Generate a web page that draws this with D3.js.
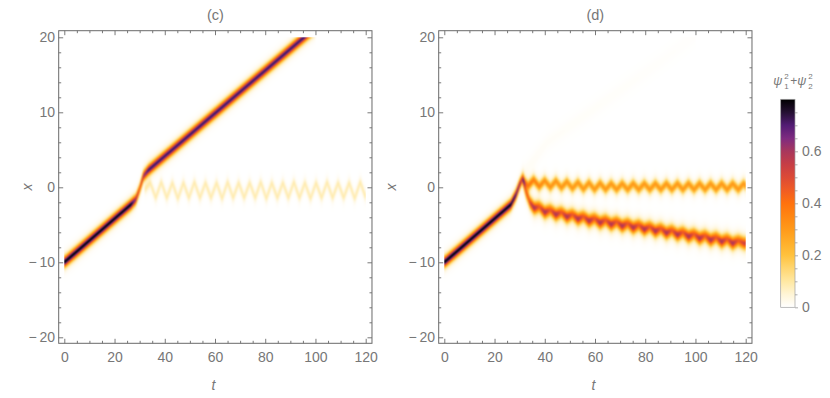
<!DOCTYPE html>
<html>
<head>
<meta charset="utf-8">
<script src="https://cdn.jsdelivr.net/npm/d3@7"></script>
<style>
  body { margin: 0; background: #fff; }
  text { font-family: "Liberation Sans", Arial, sans-serif; }
</style>
</head>
<body>
<div id="dataviz"></div>
<script>
// ---- data ----
// colour map of the legend (value -> colour)
var cmapStops = [0, 0.05, 0.1, 0.15, 0.2, 0.25, 0.3, 0.35, 0.4, 0.45, 0.5, 0.55, 0.6, 0.65, 0.7, 0.75, 0.8];
var cmapColors = ["#ffffff", "#fff5d6", "#ffe8a2", "#ffd671", "#ffc23e", "#ffae2a", "#ff9a1a", "#ff8612",
                  "#ff720e", "#f05c24", "#dc4a36", "#c63e46", "#a8375c", "#7e2b80", "#521c74", "#251032", "#000000"];

// tick values
var tTicks = [0, 20, 40, 60, 80, 100, 120];
var tMinor = [5, 10, 15, 25, 30, 35, 45, 50, 55, 65, 70, 75, 85, 90, 95, 105, 110, 115];
var xTicks = [-20, -10, 0, 10, 20];
var xMinor = [-18, -16, -14, -12, -8, -6, -4, -2, 2, 4, 6, 8, 12, 14, 16, 18];
var barTicks = [0, 0.2, 0.4, 0.6];
var barMinor = [0.05, 0.1, 0.15, 0.25, 0.3, 0.35, 0.45, 0.5, 0.55, 0.65, 0.7, 0.75];

// (c) moving soliton: centre x(t) and peak value
var cMainT = [0, 26.5, 28.5, 30, 31.5, 33.5, 100];
var cMainX = [-10, -2.3, -1.6, -0.2, 1.5, 2.3, 21.3];
var cMainA = [0.8, 0.79, 0.6, 0.45, 0.6, 0.72, 0.72];

// (c) weak trapped part, zigzag vertices
var cTrapT = [32, 34.2, 36.4, 38.6, 40.8, 43, 45.2, 47.4, 49.6, 51.8, 54, 56.2, 58.4, 60.6, 62.8, 65, 67.2, 69.4,
              71.6, 73.8, 76, 78.2, 80.4, 82.6, 84.8, 87, 89.2, 91.4, 93.6, 95.8, 98, 100.2, 102.4, 104.6, 106.8,
              109, 111.2, 113.4, 115.6, 117.8, 120];
var cTrapX = [-0.3,
              0.6, -1.4, 0.7, -1.4, 0.6, -1.5, 0.6, -1.4, 0.7, -1.4,
              0.6, -1.4, 0.6, -1.5, 0.7, -1.4, 0.6, -1.4, 0.6, -1.4,
              0.7, -1.5, 0.6, -1.4, 0.6, -1.4, 0.7, -1.4, 0.6, -1.5,
              0.6, -1.4, 0.7, -1.4, 0.6, -1.4, 0.6, -1.5, 0.7, -1.4];
var cTrapAT = [32, 120];
var cTrapA = [0.09, 0.09];

// (d) incoming soliton
var dMainT = [0, 26.5, 28.5, 30, 31.2];
var dMainX = [-10, -2.3, -1.0, 0.4, 1.2];
var dMainA = [0.8, 0.79, 0.72, 0.62, 0.5];

// (d) reflected (lower) soliton: drift of the centre
var dLowT = [31.2, 32.5, 34, 36, 40, 45, 50, 60, 70, 80, 90, 100, 110, 120];
var dLowX = [1.2, -0.6, -1.9, -2.6, -3.1, -3.45, -3.8, -4.4, -4.9, -5.4, -5.95, -6.5, -7.0, -7.5];

// (d) oscillation vertices shared by the trapped and the reflected parts
var dOscT = [31.2, 33.4, 35.6, 37.8, 40, 42.2, 44.4, 46.6, 48.8, 51, 53.2, 55.4, 57.6, 59.8, 62, 64.2, 66.4,
             68.6, 70.8, 73, 75.2, 77.4, 79.6, 81.8, 84, 86.2, 88.4, 90.6, 92.8, 95, 97.2, 99.4, 101.6, 103.8,
             106, 108.2, 110.4, 112.6, 114.8, 117, 119.2, 120];
var dLowWig = [0, 0,
               -0.25, 0.25, -0.25, 0.25, -0.25, 0.25, -0.25, 0.25, -0.25, 0.25,
               -0.25, 0.25, -0.25, 0.25, -0.25, 0.25, -0.25, 0.25, -0.25, 0.25,
               -0.25, 0.25, -0.25, 0.25, -0.25, 0.25, -0.25, 0.25, -0.25, 0.25,
               -0.25, 0.25, -0.25, 0.25, -0.25, 0.25, -0.25, 0.25, 0];
var dLowA = [0.4, 0.44,
             0.6, 0.44, 0.6, 0.44, 0.6, 0.44, 0.6, 0.44, 0.6, 0.44,
             0.6, 0.44, 0.6, 0.44, 0.6, 0.44, 0.6, 0.44, 0.6, 0.44,
             0.6, 0.44, 0.6, 0.44, 0.6, 0.44, 0.6, 0.44, 0.6, 0.44,
             0.6, 0.44, 0.6, 0.44, 0.6, 0.44, 0.6, 0.44, 0.52];

// (d) trapped (upper) soliton
var dUpX = [1.0, 0.2, 1.0, 0.1, 0.9, 0.0, 0.85, -0.05, 0.75, -0.15, 0.65, -0.25, 0.6, -0.3, 0.55, -0.3,
            0.5, -0.3, 0.5, -0.3, 0.5, -0.3, 0.5, -0.3, 0.5, -0.3, 0.5, -0.3, 0.5, -0.3, 0.5, -0.3,
            0.5, -0.3, 0.5, -0.3, 0.5, -0.3, 0.5, -0.3, 0.5, 0.1];
var dUpAT = [31.2, 34, 40, 50, 120];
var dUpA = [0.3, 0.38, 0.32, 0.3, 0.3];

// (d) faint transmitted remnant
var dGhostT = [31, 41, 85, 100];
var dGhostX = [1.5, 6, 16.5, 20.3];
var dGhostA = [0.012, 0.008, 0.005, 0.004];

// ---- layout ----
var width = 830, height = 398;
var frameCol = "#6a6a6a", textCol = "#777";
var fontSize = 14;

var svg = d3.select("#dataviz").append("svg")
    .attr("width", width)
    .attr("height", height)
    .attr("viewBox", `0 0 ${width} ${height}`);

var color = d3.scaleLinear().domain(cmapStops).range(cmapColors).clamp(true);
var vmax = cmapStops[cmapStops.length - 1];

// lookup table for the density image
var lut = d3.range(0, 801).map(k => d3.rgb(color(k / 1000)));

function track(t, x, at, a, w, wigT, wig) {
    return {
        t0: t[0], t1: t[t.length - 1],
        xs: d3.scaleLinear().domain(t).range(x),
        as: d3.scaleLinear().domain(at).range(a).clamp(true),
        ws: wigT ? d3.scaleLinear().domain(wigT).range(wig).clamp(true) : null,
        w: w
    };
}

var panels = [
    { name: "(c)", ox: 0, xLabelX: 28,
      tracks: [track(cMainT, cMainX, cMainT, cMainA, 0.6),
               track(cTrapT, cTrapX, cTrapAT, cTrapA, 0.6)] },
    { name: "(d)", ox: 380, xLabelX: 392,
      tracks: [track(dMainT, dMainX, dMainT, dMainA, 0.6),
               track(dLowT, dLowX, dOscT, dLowA, 0.72, dOscT, dLowWig),
               track(dOscT, dUpX, dUpAT, dUpA, 0.62),
               track(dGhostT, dGhostX, dGhostT, dGhostA, 1.0)] }
];

panels.forEach(function(p) {
    var x = d3.scaleLinear().domain([0, 120]).range([64.3 + p.ox, 365.7 + p.ox]);
    var y = d3.scaleLinear().domain([-20, 20]).range([337.3, 37.3]);
    var fl = x(-2.23), fr = x(122.5), ft = y(20.88), fb = y(-20.8);
    var g = svg.append("g").attr("class", "panel");

    // density image (samples spread a little along t to soften like the original)
    var ix0 = x(0), ix1 = x(120), iy0 = y(20), iy1 = y(-20);
    var W = Math.round(ix1 - ix0), H = Math.round(iy1 - iy0);
    var sst = 6, ssx = 3, spread = 2.4;
    var canvas = document.createElement("canvas");
    canvas.width = W; canvas.height = H;
    var ctx = canvas.getContext("2d");
    var img = ctx.createImageData(W, H);
    var pt = d3.scaleLinear().domain([0, W]).range([0, 120]);
    var px = d3.scaleLinear().domain([0, H]).range([20, -20]);
    var acc = new Float32Array(W * H * 3);
    var cnt = new Float32Array(W);
    for (var i = 0; i < W; i++) {
        for (var si = 0; si < sst; si++) {
            var t = pt(i + 0.5 + ((si + 0.5) / sst - 0.5) * spread);
            if (t < 0 || t > 120) continue;
            cnt[i] += 1;
            var act = [];
            p.tracks.forEach(function(tr) {
                if (t >= tr.t0 && t <= tr.t1) {
                    act.push({ c: tr.xs(t) + (tr.ws ? tr.ws(t) : 0), a: tr.as(t), w: tr.w });
                }
            });
            for (var j = 0; j < H; j++) {
                for (var sj = 0; sj < ssx; sj++) {
                    var xv = px(j + (sj + 0.5) / ssx);
                    var v = 0;
                    for (var k = 0; k < act.length; k++) {
                        var ch = Math.cosh((xv - act[k].c) / act[k].w);
                        v += act[k].a / (ch * ch);
                    }
                    var c = lut[Math.min(800, Math.round(Math.min(v, vmax) * 1000))];
                    var o = (j * W + i) * 3;
                    acc[o] += c.r; acc[o + 1] += c.g; acc[o + 2] += c.b;
                }
            }
        }
    }
    for (var n = 0; n < W * H; n++) {
        var m = cnt[n % W] * ssx || 1;
        img.data[n * 4] = acc[n * 3] / m;
        img.data[n * 4 + 1] = acc[n * 3 + 1] / m;
        img.data[n * 4 + 2] = acc[n * 3 + 2] / m;
        img.data[n * 4 + 3] = 255;
    }
    ctx.putImageData(img, 0, 0);
    g.append("image")
        .attr("x", ix0).attr("y", iy0)
        .attr("width", ix1 - ix0).attr("height", iy1 - iy0)
        .attr("preserveAspectRatio", "none")
        .attr("href", canvas.toDataURL());

    // axes: major + minor ticks on all four sides, pointing inward
    function styleAxis(sel) {
        sel.select(".domain").remove();
        sel.selectAll("line").attr("stroke", frameCol).attr("stroke-width", 0.9);
        sel.selectAll("text").attr("fill", textCol).attr("font-size", fontSize)
            .attr("font-family", '"Liberation Sans", Arial, sans-serif');
    }
    var minus = d => d < 0 ? "\u2212\u2009" + Math.abs(d) : String(d);

    g.append("g").attr("transform", `translate(0,${fb})`)
        .call(d3.axisBottom(x).tickValues(tMinor).tickSize(-2.5).tickFormat("")).call(styleAxis);
    g.append("g").attr("transform", `translate(0,${fb})`)
        .call(d3.axisBottom(x).tickValues(tTicks).tickSize(-4.5).tickPadding(8.4).tickFormat(d => String(d))).call(styleAxis);
    g.append("g").attr("transform", `translate(0,${ft})`)
        .call(d3.axisTop(x).tickValues(tMinor).tickSize(-2.5).tickFormat("")).call(styleAxis);
    g.append("g").attr("transform", `translate(0,${ft})`)
        .call(d3.axisTop(x).tickValues(tTicks).tickSize(-4.5).tickFormat("")).call(styleAxis);

    g.append("g").attr("transform", `translate(${fl},0)`)
        .call(d3.axisLeft(y).tickValues(xMinor).tickSize(-2.5).tickFormat("")).call(styleAxis);
    g.append("g").attr("transform", `translate(${fl},0)`)
        .call(d3.axisLeft(y).tickValues(xTicks).tickSize(-4.5).tickPadding(3.7).tickFormat(minus)).call(styleAxis);
    g.append("g").attr("transform", `translate(${fr},0)`)
        .call(d3.axisRight(y).tickValues(xMinor).tickSize(-2.5).tickFormat("")).call(styleAxis);
    g.append("g").attr("transform", `translate(${fr},0)`)
        .call(d3.axisRight(y).tickValues(xTicks).tickSize(-4.5).tickFormat("")).call(styleAxis);

    // frame
    g.append("rect")
        .attr("x", fl).attr("y", ft)
        .attr("width", fr - fl).attr("height", fb - ft)
        .attr("fill", "none").attr("stroke", frameCol).attr("stroke-width", 1);

    // labels
    g.append("text").attr("x", (fl + fr) / 2).attr("y", 20)
        .attr("text-anchor", "middle").attr("font-size", 14.5).attr("fill", textCol)
        .text(p.name);
    g.append("text").attr("x", (fl + fr) / 2 - 2).attr("y", 390)
        .attr("text-anchor", "middle").attr("font-size", fontSize).attr("font-style", "italic").attr("fill", textCol)
        .text("t");
    g.append("text")
        .attr("transform", `translate(${p.xLabelX},${(ft + fb) / 2}) rotate(-90)`)
        .attr("text-anchor", "middle").attr("dy", "0.3em")
        .attr("font-size", fontSize).attr("font-style", "italic").attr("fill", textCol)
        .text("x");
});

// ---- colour bar ----
var bar = d3.scaleLinear().domain([0, vmax]).range([307.3, 99.3]);
var barX = 780.7, barW = 14.3;
var grad = svg.append("defs").append("linearGradient")
    .attr("id", "cbar").attr("x1", 0).attr("y1", 1).attr("x2", 0).attr("y2", 0);
grad.selectAll("stop").data(cmapStops).enter().append("stop")
    .attr("offset", d => d / vmax)
    .attr("stop-color", d => color(d));
svg.append("rect")
    .attr("x", barX).attr("y", bar(vmax))
    .attr("width", barW).attr("height", bar(0) - bar(vmax))
    .attr("fill", "url(#cbar)")
    .attr("stroke", "#a0a0a0").attr("stroke-width", 0.7);

var barAxisStyle = function(sel) {
    sel.select(".domain").remove();
    sel.selectAll("line").attr("stroke", "#9a9a9a").attr("stroke-width", 0.8);
    sel.selectAll("text").attr("fill", textCol).attr("font-size", fontSize)
        .attr("font-family", '"Liberation Sans", Arial, sans-serif');
};
svg.append("g").attr("transform", `translate(${barX + barW},0)`)
    .call(d3.axisRight(bar).tickValues(barMinor).tickSize(2.5).tickFormat("")).call(barAxisStyle);
svg.append("g").attr("transform", `translate(${barX + barW},0)`)
    .call(d3.axisRight(bar).tickValues(barTicks).tickSize(3).tickPadding(4)
        .tickFormat(d => d === 0 ? "0" : d3.format(".1f")(d))).call(barAxisStyle);

// legend title  psi_1^2 + psi_2^2
var lt = svg.append("g").attr("fill", textCol);
function psiTerm(x0, sub) {
    lt.append("text").attr("x", x0).attr("y", 85).attr("font-size", 12.5).attr("font-style", "italic").text("\u03c8");
    lt.append("text").attr("x", x0 + 11).attr("y", 78.5).attr("font-size", 8).text("2");
    lt.append("text").attr("x", x0 + 11).attr("y", 88.5).attr("font-size", 8).text(sub);
}
psiTerm(773.3, "1");
lt.append("text").attr("x", 790.3).attr("y", 85).attr("font-size", 12).text("+");
psiTerm(797.2, "2");
</script>
</body>
</html>
